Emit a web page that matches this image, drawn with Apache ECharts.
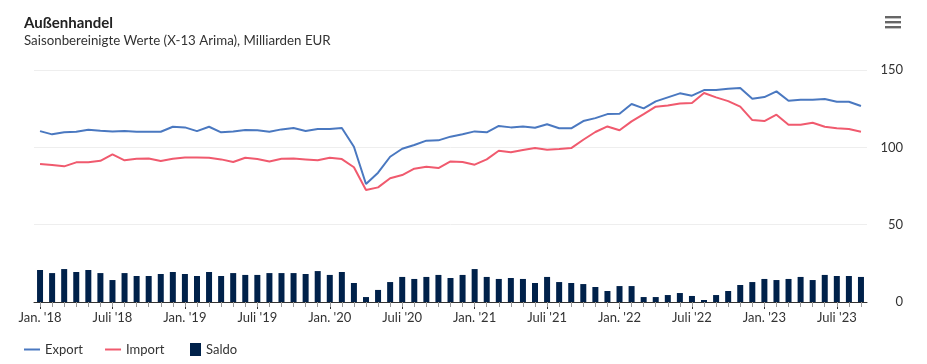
<!DOCTYPE html>
<html>
<head>
<meta charset="utf-8">
<script src="https://cdn.jsdelivr.net/npm/echarts@6/dist/echarts.min.js"></script>
<style>
html,body{margin:0;padding:0;background:#fff;}
#chart{width:927px;height:364px;}
</style>
</head>
<body>
<div id="chart"></div>
<script>
// Monthly categories Jan 2018 – Sep 2023
const months = [];
const years = ['18','19','20','21','22','23'];
const monthNames = ['Jan.','Feb.','März','Apr.','Mai','Juni','Juli','Aug.','Sep.','Okt.','Nov.','Dez.'];
years.forEach(function (y) {
  monthNames.forEach(function (m) { months.push(m + " '" + y); });
});
const categories = months.slice(0, 69);

const exportValues = [
  110.5,108.4,109.7,110.1,111.4,110.8,110.3,110.5,110.1,110.1,110.1,113.3,
  112.9,110.5,113.3,109.7,110.3,111.2,111.0,110.1,111.6,112.5,110.5,111.8,
  111.8,112.5,100.4,76.3,83.6,93.9,99.1,101.5,104.3,104.5,106.9,108.4,
  110.3,109.7,113.8,112.9,113.5,112.7,114.9,112.3,112.3,117.0,118.9,121.5,
  121.7,128.0,125.2,129.7,132.3,134.9,133.4,137.0,137.0,137.9,138.3,131.4,
  132.5,136.2,130.1,130.8,130.8,131.2,129.5,129.5,126.7
];
const importValues = [
  89.2,88.6,87.7,90.3,90.3,91.3,95.5,91.6,92.6,92.8,91.1,92.6,
  93.5,93.5,93.3,92.2,90.5,93.3,92.4,90.9,92.6,92.8,92.2,91.6,
  93.3,92.4,87.1,72.4,74.1,80.0,82.1,86.2,87.5,86.6,90.9,90.5,
  88.8,92.2,97.8,96.8,98.3,99.5,98.5,98.9,99.5,104.9,109.9,113.5,
  111.0,116.8,121.5,126.3,127.1,128.4,128.6,135.1,132.3,129.9,126.3,117.6,
  117.0,121.1,114.6,114.6,115.9,113.3,112.3,111.8,110.1
];
const saldoValues = [
  20.7,18.7,21.3,19.4,20.7,18.7,14.2,18.7,16.8,16.8,18.1,19.4,
  18.1,16.8,19.4,16.8,18.7,17.5,17.5,18.7,18.7,18.7,18.1,20.0,
  17.5,19.4,12.3,3.2,7.8,12.9,16.2,14.9,16.2,17.5,15.5,17.5,
  21.3,16.2,14.9,15.5,14.9,12.3,16.2,12.9,12.3,11.6,9.7,7.1,
  10.3,10.3,3.2,3.2,4.5,5.8,3.9,1.3,4.5,7.1,11.0,12.9,
  14.9,14.2,14.9,16.2,14.2,17.5,16.8,16.8,16.2
];
const yTicks = [0, 50, 100, 150];

const FONT = 'Lato';
const chart = echarts.init(document.getElementById('chart'), null, {renderer: 'canvas'});
chart.setOption({
  animation: false,
  backgroundColor: '#ffffff',
  textStyle: {fontFamily: FONT},
  title: {
    text: 'Außenhandel',
    subtext: 'Saisonbereinigte Werte (X-13 Arima), Milliarden EUR',
    left: 19, top: 11,
    itemGap: 3,
    textStyle: {fontFamily: FONT, fontSize: 15, fontWeight: 'bold', color: '#222222'},
    subtextStyle: {fontFamily: FONT, fontSize: 13.3, color: '#333333'}
  },
  legend: [
    {
      data: [{name: 'Export', icon: 'rect'}, {name: 'Import', icon: 'rect'}],
      left: 19, top: 338,
      itemWidth: 16, itemHeight: 2, itemGap: 22,
      textStyle: {fontFamily: FONT, fontSize: 13, color: '#333333'}
    },
    {
      data: [{name: 'Saldo', icon: 'rect'}],
      left: 185, top: 338,
      itemWidth: 11, itemHeight: 13, itemGap: 8,
      textStyle: {fontFamily: FONT, fontSize: 13, color: '#333333'}
    }
  ],
  grid: {left: 34, right: 60, top: 70, bottom: 62, containLabel: false},
  xAxis: [
    {
      type: 'category',
      data: categories,
      boundaryGap: true,
      axisLine: {show: true, lineStyle: {color: '#333333', width: 1}},
      axisTick: {show: true, alignWithLabel: true, interval: 5, length: 7, lineStyle: {color: '#333333'}},
      axisLabel: {interval: 5, margin: 9, fontFamily: FONT, fontSize: 13, color: '#333333'},
      splitLine: {show: false}
    },
    {
      type: 'category',
      data: categories,
      boundaryGap: true,
      position: 'bottom',
      axisLine: {show: false},
      axisTick: {show: true, alignWithLabel: true, interval: 0, length: 5, lineStyle: {color: '#999999'}},
      axisLabel: {show: false},
      splitLine: {show: false}
    }
  ],
  yAxis: {
    type: 'value',
    position: 'right',
    min: yTicks[0], max: yTicks[yTicks.length - 1], interval: 50,
    axisLine: {show: false},
    axisTick: {show: false},
    axisLabel: {align: 'right', margin: 36, fontFamily: FONT, fontSize: 13, color: '#333333'},
    splitLine: {show: true, lineStyle: {color: '#eeeeee', width: 1}}
  },
  series: [
    {
      name: 'Export', type: 'line', data: exportValues,
      symbol: 'none', smooth: false,
      lineStyle: {color: '#4a78c0', width: 2},
      itemStyle: {color: '#4a78c0'},
      z: 3
    },
    {
      name: 'Import', type: 'line', data: importValues,
      symbol: 'none', smooth: false,
      lineStyle: {color: '#f05a6e', width: 2},
      itemStyle: {color: '#f05a6e'},
      z: 3
    },
    {
      name: 'Saldo', type: 'bar', data: saldoValues,
      barWidth: 6,
      itemStyle: {color: '#00214a'},
      z: 2
    }
  ],
  graphic: [
    {type: 'rect', left: 885, top: 16, shape: {width: 16, height: 2.4}, style: {fill: '#666666'}},
    {type: 'rect', left: 885, top: 21, shape: {width: 16, height: 2.4}, style: {fill: '#666666'}},
    {type: 'rect', left: 885, top: 26, shape: {width: 16, height: 2.4}, style: {fill: '#666666'}}
  ]
});
</script>
</body>
</html>
